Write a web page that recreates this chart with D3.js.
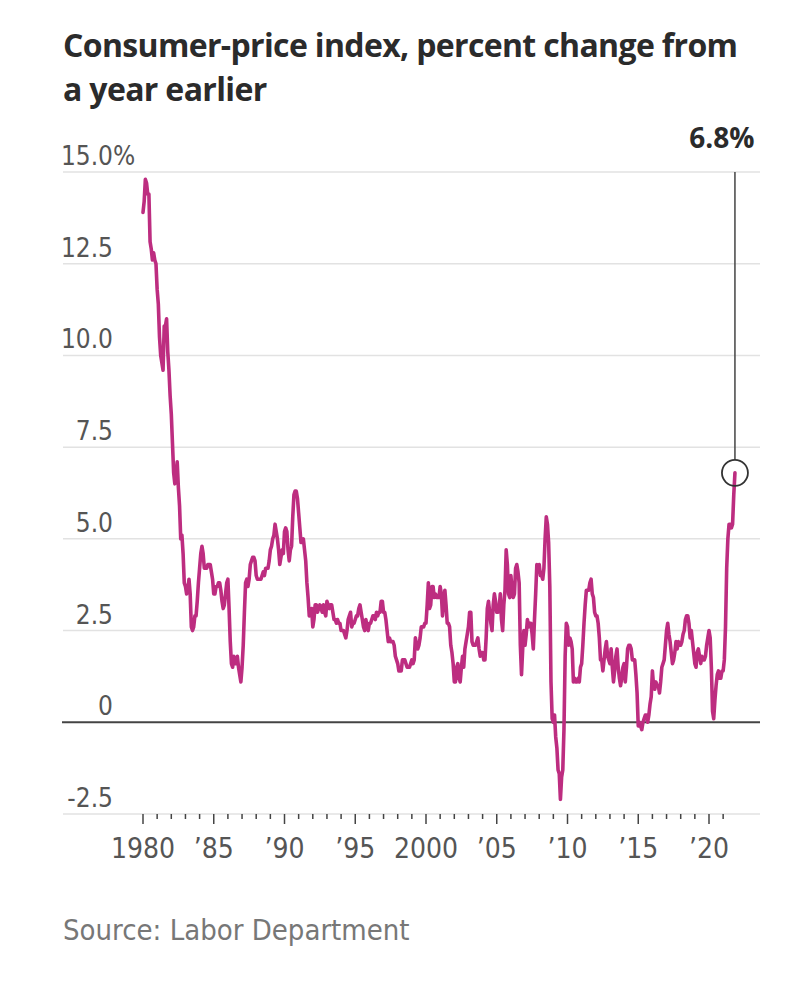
<!DOCTYPE html>
<html>
<head>
<meta charset="utf-8">
<script src="https://cdn.jsdelivr.net/npm/d3@7"></script>
<style>
  html, body { margin: 0; padding: 0; background: #fff; }
  svg { display: block; }
  .narrow { font-family: "Liberation Sans Narrow", "DejaVu Sans Condensed", "Roboto", sans-serif; }
</style>
</head>
<body>
<svg id="chart" width="800" height="985"></svg>
<script>
// ---- Data ----
const titleLines = ["Consumer-price index, percent change from", "a year earlier"];
const sourceText = "Source: Labor Department";
const startYear = 1980;
// Monthly CPI, percent change from a year earlier, Jan 1980 – Nov 2021
const cpi = [
  13.9, 14.2, 14.8, 14.7, 14.4, 14.4, 13.1, 12.9, 12.6, 12.8, 12.6, 12.5, // 1980
  11.8, 11.4, 10.5, 10.0, 9.8, 9.6, 10.8, 10.8, 11.0, 10.1, 9.6, 8.9,     // 1981
  8.4, 7.6, 6.8, 6.5, 6.7, 7.1, 6.4, 5.9, 5.0, 5.1, 4.6, 3.8,             // 1982
  3.7, 3.5, 3.6, 3.9, 3.5, 2.6, 2.5, 2.6, 2.9, 2.9, 3.3, 3.8,             // 1983
  4.2, 4.6, 4.8, 4.6, 4.2, 4.2, 4.2, 4.3, 4.3, 4.3, 4.1, 3.9,             // 1984
  3.5, 3.5, 3.7, 3.7, 3.8, 3.8, 3.6, 3.3, 3.1, 3.2, 3.5, 3.8,             // 1985
  3.9, 3.1, 2.2, 1.6, 1.5, 1.8, 1.6, 1.6, 1.8, 1.5, 1.3, 1.1,             // 1986
  1.5, 2.1, 3.0, 3.8, 3.9, 3.7, 3.9, 4.3, 4.4, 4.5, 4.5, 4.4,             // 1987
  4.0, 3.9, 3.9, 3.9, 3.9, 4.0, 4.1, 4.0, 4.2, 4.2, 4.2, 4.4,             // 1988
  4.7, 4.8, 5.0, 5.1, 5.4, 5.2, 5.0, 4.7, 4.3, 4.5, 4.7, 4.6,             // 1989
  5.2, 5.3, 5.2, 4.7, 4.4, 4.7, 4.8, 5.6, 6.2, 6.3, 6.3, 6.1,             // 1990
  5.7, 5.3, 4.9, 4.9, 5.0, 4.7, 4.4, 3.8, 3.4, 2.9, 3.0, 3.1,             // 1991
  2.6, 2.8, 3.2, 3.2, 3.0, 3.1, 3.2, 3.1, 3.0, 3.2, 3.0, 2.9,             // 1992
  3.3, 3.2, 3.1, 3.2, 3.2, 3.0, 2.8, 2.8, 2.7, 2.8, 2.7, 2.7,             // 1993
  2.5, 2.5, 2.5, 2.4, 2.3, 2.5, 2.8, 2.9, 3.0, 2.6, 2.7, 2.7,             // 1994
  2.8, 2.9, 2.9, 3.1, 3.2, 3.0, 2.8, 2.6, 2.5, 2.8, 2.6, 2.5,             // 1995
  2.7, 2.7, 2.8, 2.9, 2.9, 2.8, 3.0, 2.9, 3.0, 3.0, 3.3, 3.3,             // 1996
  3.0, 3.0, 2.8, 2.5, 2.2, 2.3, 2.2, 2.2, 2.2, 2.1, 1.8, 1.7,             // 1997
  1.6, 1.4, 1.4, 1.4, 1.7, 1.7, 1.7, 1.6, 1.5, 1.5, 1.5, 1.6,             // 1998
  1.7, 1.6, 1.7, 2.3, 2.1, 2.0, 2.1, 2.3, 2.6, 2.6, 2.6, 2.7,             // 1999
  2.7, 3.2, 3.8, 3.1, 3.2, 3.7, 3.7, 3.4, 3.5, 3.4, 3.4, 3.4,             // 2000
  3.7, 3.5, 2.9, 3.3, 3.6, 3.2, 2.7, 2.7, 2.6, 2.1, 1.9, 1.6,             // 2001
  1.1, 1.1, 1.5, 1.6, 1.2, 1.1, 1.5, 1.8, 1.5, 2.0, 2.2, 2.4,             // 2002
  2.6, 3.0, 3.0, 2.2, 2.1, 2.1, 2.1, 2.2, 2.3, 2.0, 1.8, 1.9,             // 2003
  1.9, 1.7, 1.7, 2.3, 3.1, 3.3, 3.0, 2.7, 2.5, 3.2, 3.5, 3.3,             // 2004
  3.0, 3.0, 3.1, 3.5, 2.8, 2.5, 3.2, 3.6, 4.7, 4.3, 3.5, 3.4,             // 2005
  4.0, 3.6, 3.4, 3.5, 4.2, 4.3, 4.1, 3.8, 2.1, 1.3, 2.0, 2.5,             // 2006
  2.1, 2.4, 2.8, 2.6, 2.7, 2.7, 2.4, 2.0, 2.8, 3.5, 4.3, 4.1,             // 2007
  4.3, 4.0, 4.0, 3.9, 4.2, 5.0, 5.6, 5.4, 4.9, 3.7, 1.1, 0.1,             // 2008
  0.0, 0.2, -0.4, -0.7, -1.3, -1.4, -2.1, -1.5, -1.3, -0.2, 1.8, 2.7,     // 2009
  2.6, 2.1, 2.3, 2.2, 2.0, 1.1, 1.2, 1.1, 1.1, 1.2, 1.1, 1.5,             // 2010
  1.6, 2.1, 2.7, 3.2, 3.6, 3.6, 3.6, 3.8, 3.9, 3.5, 3.4, 3.0,             // 2011
  2.9, 2.9, 2.7, 2.3, 1.7, 1.7, 1.4, 1.7, 2.0, 2.2, 1.8, 1.7,             // 2012
  1.6, 2.0, 1.5, 1.1, 1.4, 1.8, 2.0, 1.5, 1.2, 1.0, 1.2, 1.5,             // 2013
  1.6, 1.1, 1.5, 2.0, 2.1, 2.1, 2.0, 1.7, 1.7, 1.7, 1.3, 0.8,             // 2014
  -0.1, 0.0, -0.1, -0.2, 0.0, 0.1, 0.2, 0.2, 0.0, 0.2, 0.5, 0.7,          // 2015
  1.4, 1.0, 0.9, 1.1, 1.0, 1.0, 0.8, 1.1, 1.5, 1.6, 1.7, 2.1,             // 2016
  2.5, 2.7, 2.4, 2.2, 1.9, 1.6, 1.7, 1.9, 2.2, 2.0, 2.2, 2.1,             // 2017
  2.1, 2.2, 2.4, 2.5, 2.8, 2.9, 2.9, 2.7, 2.3, 2.5, 2.2, 1.9,             // 2018
  1.6, 1.5, 1.9, 2.0, 1.8, 1.6, 1.8, 1.7, 1.7, 1.8, 2.1, 2.3,             // 2019
  2.5, 2.3, 1.5, 0.3, 0.1, 0.6, 1.0, 1.3, 1.4, 1.2, 1.2, 1.4,             // 2020
  1.4, 1.7, 2.6, 4.2, 5.0, 5.4, 5.4, 5.3, 5.4, 6.2, 6.8                   // 2021
];
const yTicks = [-2.5, 0, 2.5, 5, 7.5, 10, 12.5, 15];
const yTickLabels = ["-2.5", "0", "2.5", "5.0", "7.5", "10.0", "12.5", "15.0"];
const xMinorYears = d3.range(1980, 2022);
const xMajorYears = [1980, 1985, 1990, 1995, 2000, 2005, 2010, 2015, 2020];
const xTickLabels = ["1980", "\u201985", "\u201990", "\u201995", "2000", "\u201905", "\u201910", "\u201915", "\u201920"];
const latestLabel = "6.8%";

// ---- Layout ----
const svg = d3.select("#chart");
const lineColor = "#bd2d80";
const plotLeft = 63, plotRight = 760;

const x = d3.scaleLinear().domain([1980, 2020]).range([143, 709]);
const y = d3.scaleLinear().domain([-2.5, 15]).range([814, 172]);

const data = cpi.map((v, i) => ({ t: startYear + i / 12, v }));

// Title
svg.append("g").selectAll("text").data(titleLines).join("text")
  .attr("x", 63).attr("y", (d, i) => 57 + i * 44)
  .attr("font-family", "'Open Sans', 'Noto Sans', sans-serif")
  .attr("font-weight", 700)
  .attr("font-size", 32)
  .attr("fill", "#2b2b2b")
  .attr("letter-spacing", -0.65)
  .text(d => d);

// Gridlines
svg.append("g").selectAll("line").data(yTicks.filter(d => d !== 0)).join("line")
  .attr("x1", plotLeft).attr("x2", plotRight)
  .attr("y1", d => y(d)).attr("y2", d => y(d))
  .attr("stroke", "#e2e2e2").attr("stroke-width", 1.5);

// Y labels
const yl = svg.append("g").attr("class", "narrow");
yl.selectAll("text").data(yTicks).join("text")
  .attr("x", 113).attr("y", d => y(d) - 7)
  .attr("text-anchor", "end")
  .attr("font-size", 26)
  .attr("fill", "#555")
  .text((d, i) => yTickLabels[i]);
yl.append("text").attr("x", 113).attr("y", y(15) - 7)
  .attr("font-size", 26).attr("fill", "#555").text("%");

// X axis ticks
const xa = svg.append("g");
xa.selectAll("line.minor").data(xMinorYears).join("line")
  .attr("class", "minor")
  .attr("x1", d => x(d)).attr("x2", d => x(d))
  .attr("y1", 814).attr("y2", d => xMajorYears.includes(d) ? 824 : 819)
  .attr("stroke", "#444").attr("stroke-width", 1.5);
xa.selectAll("text").data(xMajorYears).join("text")
  .attr("class", "narrow")
  .attr("x", d => x(d)).attr("y", 858)
  .attr("text-anchor", "middle")
  .attr("font-size", 28)
  .attr("fill", "#555")
  .text((d, i) => xTickLabels[i]);

// Zero line
svg.append("line")
  .attr("x1", plotLeft - 1).attr("x2", plotRight)
  .attr("y1", y(0)).attr("y2", y(0))
  .attr("stroke", "#444").attr("stroke-width", 2);

// CPI line
const line = d3.line().x(d => x(d.t)).y(d => y(d.v));
svg.append("path").datum(data)
  .attr("d", line)
  .attr("fill", "none")
  .attr("stroke", lineColor)
  .attr("stroke-width", 3.6)
  .attr("stroke-linejoin", "round")
  .attr("stroke-linecap", "round");

// Annotation
const last = data[data.length - 1];
const r = 13;
svg.append("line")
  .attr("x1", x(last.t)).attr("x2", x(last.t))
  .attr("y1", y(15)).attr("y2", y(last.v) - r)
  .attr("stroke", "#444").attr("stroke-width", 1.5);
svg.append("circle")
  .attr("cx", x(last.t)).attr("cy", y(last.v)).attr("r", r)
  .attr("fill", "none").attr("stroke", "#333").attr("stroke-width", 1.8);
svg.append("text")
  .attr("x", x(last.t) - 13).attr("y", 148)
  .attr("text-anchor", "middle")
  .attr("font-family", "'Open Sans', 'Noto Sans', sans-serif")
  .attr("font-weight", 700).attr("font-size", 28)
  .attr("fill", "#2b2b2b")
  .text(latestLabel);

// Source
svg.append("text")
  .attr("class", "narrow")
  .attr("x", 63).attr("y", 940)
  .attr("font-size", 29)
  .attr("fill", "#777")
  .text(sourceText);
</script>
</body>
</html>
